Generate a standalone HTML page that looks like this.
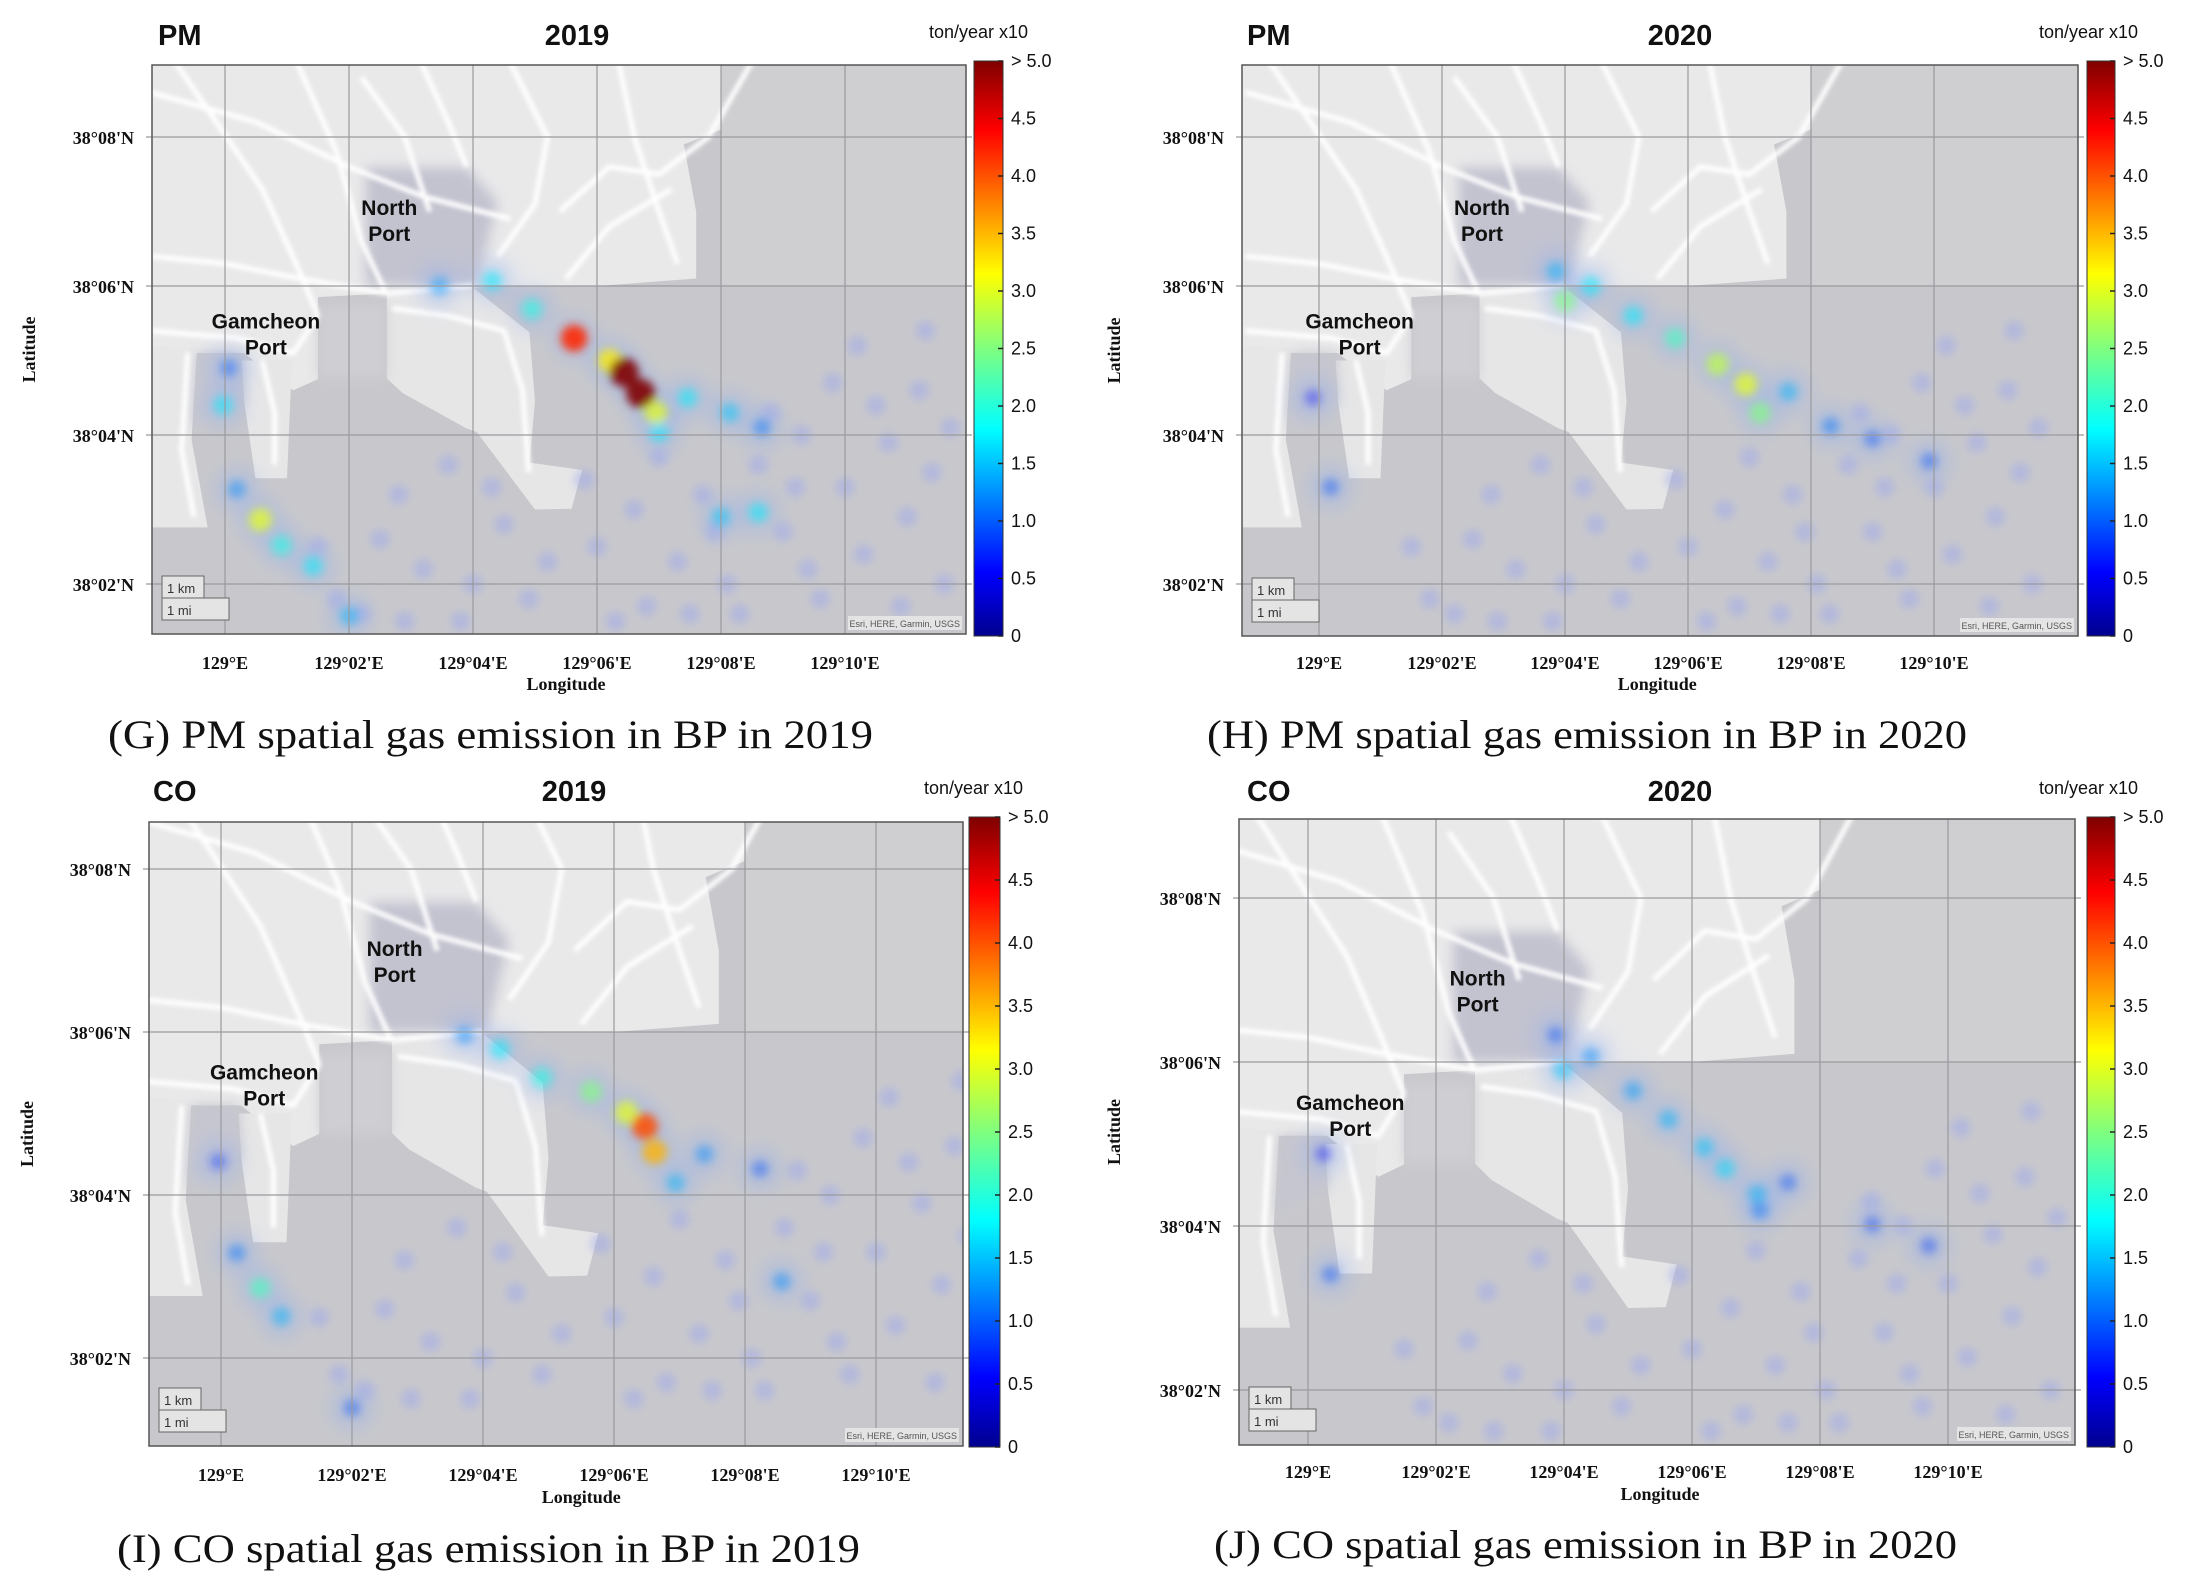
<!DOCTYPE html>
<html><head><meta charset="utf-8">
<style>
html,body{margin:0;padding:0;background:#fff;}
svg{display:block;}
.tk{font-family:"Liberation Serif",serif;font-weight:bold;font-size:18px;fill:#111;}
.ttl{font-family:"Liberation Sans",sans-serif;font-weight:bold;font-size:29px;fill:#111;}
.cbl{font-family:"Liberation Sans",sans-serif;font-size:18px;fill:#111;}
.lbl{font-family:"Liberation Sans",sans-serif;font-weight:bold;font-size:21px;fill:#111;}
.cap{font-family:"Liberation Serif",serif;font-size:40px;fill:#111;}
</style></head>
<body>
<svg id="fig" width="2196" height="1584" viewBox="0 0 2196 1584" xmlns="http://www.w3.org/2000/svg">
<defs>
<linearGradient id="jetg" x1="0" y1="1" x2="0" y2="0">
<stop offset="0" stop-color="#00008f"/><stop offset="0.11" stop-color="#0000ff"/>
<stop offset="0.36" stop-color="#00ffff"/><stop offset="0.5" stop-color="#7fff7f"/>
<stop offset="0.63" stop-color="#ffff00"/><stop offset="0.88" stop-color="#ff0000"/>
<stop offset="1" stop-color="#7f0000"/></linearGradient>
<filter id="blur1" x="-20%" y="-20%" width="140%" height="140%"><feGaussianBlur stdDeviation="9"/></filter>
<filter id="blur2" x="-20%" y="-20%" width="140%" height="140%"><feGaussianBlur stdDeviation="4.5"/></filter>
<filter id="blur3" x="-20%" y="-20%" width="140%" height="140%"><feGaussianBlur stdDeviation="2"/></filter>
<filter id="blur4" x="-20%" y="-20%" width="140%" height="140%"><feGaussianBlur stdDeviation="6"/></filter>
</defs>
</svg>
<script>
// ---- data (lon minutes east of 129°E, lat minutes north of 38°N, value ton/year x10) ----
const lonTicks = [0, 2, 4, 6, 8, 10];
const lonTickLabels = ["129°E", "129°02'E", "129°04'E", "129°06'E", "129°08'E", "129°10'E"];
const latTicks = [8, 6, 4, 2];
const latTickLabels = ["38°08'N", "38°06'N", "38°04'N", "38°02'N"];
const cbTicks = [5, 4.5, 4, 3.5, 3, 2.5, 2, 1.5, 1, 0.5, 0];
const cbTickLabels = ["> 5.0", "4.5", "4.0", "3.5", "3.0", "2.5", "2.0", "1.5", "1.0", "0.5", "0"];
const heatG = [[3.46,6.0,1.4],[4.31,6.07,1.8],[4.95,5.69,2.0],[5.63,5.3,4.2],[6.2,5.0,3.2],[6.44,4.84,5.0],[6.70,4.56,5.0],[6.95,4.3,3.0],[7.0,4.04,1.8],[7.46,4.5,1.8],[8.14,4.3,1.6],[8.66,4.1,1.2],
 [0.06,4.9,1.1],[-0.03,4.4,1.8],[0.19,3.27,1.3],[0.57,2.86,3.0],[0.91,2.52,2.0],[1.42,2.24,1.8],[2.0,1.57,1.5],[8.0,2.9,1.6],[8.6,2.96,1.8]];
const heatH = [[3.85,6.2,1.5],[4.0,5.8,2.5],[4.42,6.0,1.8],[5.11,5.6,1.8],[5.79,5.3,2.2],[6.48,4.95,2.8],[6.94,4.68,3.0],[7.17,4.3,2.5],[7.63,4.58,1.5],[8.32,4.12,1.2],[9.0,3.95,1.0],[9.92,3.65,1.0],
 [0.19,3.3,1.0],[-0.1,4.5,0.7]];
const heatI = [[3.72,5.96,1.3],[4.26,5.79,1.8],[4.90,5.44,2.0],[5.65,5.27,2.5],[6.19,5.01,3.0],[6.47,4.84,4.0],[6.62,4.53,3.5],[6.94,4.15,1.5],[7.38,4.50,1.3],[8.23,4.32,1.0],
 [-0.04,4.41,0.8],[0.24,3.29,1.2],[0.60,2.86,2.2],[0.92,2.51,1.5],[2.0,1.39,1.0],[8.56,2.94,1.3]];
const heatJ = [[3.87,6.33,1.0],[3.98,5.90,1.6],[4.42,6.07,1.3],[5.08,5.65,1.4],[5.63,5.30,1.5],[6.19,4.96,1.6],[6.52,4.70,1.7],[7.02,4.39,1.5],[7.06,4.19,1.2],[7.50,4.53,1.0],[8.82,4.02,0.9],[9.70,3.76,0.9],
 [0.35,3.41,1.0],[0.24,4.88,0.7]];
const scatterPts = [[1.5,2.5],[2.2,1.6],[2.8,3.2],[3.2,2.2],[3.8,1.5],[4.5,2.8],[4.9,1.8],[6.0,2.5],[6.6,3.0],[7.0,3.7],[7.3,2.3],[7.7,3.2],[8.1,2.0],[8.6,3.6],[9.0,2.7],[9.3,4.0],[9.6,1.8],[10.0,3.3],[10.3,2.4],[10.7,3.9],[11.0,2.9],[11.4,3.5],[11.6,2.0],[10.5,4.4],[9.8,4.7],[11.2,4.6],[8.3,1.6],[6.8,1.7],[5.8,3.4],[3.6,3.6],[2.5,2.6],[1.8,1.8],[4.0,2.0],[7.9,2.7],[9.2,3.3],[10.9,1.7],[11.7,4.1],[6.3,1.5],[8.8,4.3],[5.2,2.3],[2.9,1.5],[10.2,5.2],[11.3,5.4],[9.4,2.2],[7.5,1.6],[4.3,3.3]];
// land shapes (lon/lat minutes)
const landMain = [[-1.5,9.5],[8.0,9.5],[8.0,8.1],[7.4,7.9],[7.6,7.0],[7.6,6.1],[6.0,6.0],[4.4,6.0],[2.6,5.9],[1.5,5.85],[1.5,4.75],[1.1,4.6],[0.3,5.1],[-1.5,5.1]];
const landWest = [[-1.5,5.2],[-0.45,5.17],[-0.54,3.94],[-0.28,2.76],[-1.5,2.76]];
const landGam = [[0.27,5.0],[1.08,5.0],[1.0,3.42],[0.49,3.42],[0.31,4.45]];
const landYeong = [[2.61,5.89],[3.89,6.05],[4.91,5.38],[5.0,4.45],[4.91,3.63],[5.76,3.53],[5.59,3.01],[5.0,3.0],[4.06,4.04],[3.89,4.09],[2.87,4.56],[2.61,4.76]];
const portDark = [[2.27,7.59],[3.89,7.59],[4.4,7.13],[4.06,6.0],[2.27,6.0]];
const bayDark = [[-0.45,5.1],[0.27,5.1],[0.31,4.45],[-0.5,4.1]];
const gamBasin = [[1.5,5.75],[2.6,5.75],[2.6,4.76],[1.5,4.76]];
const roads = [
 [[-1.2,8.6],[0.5,8.2],[2.0,7.6],[3.2,7.2],[4.6,6.9]],
 [[1.0,9.3],[1.8,7.8],[2.2,6.6],[2.6,5.9]],
 [[-0.8,9.0],[0.6,7.3],[1.2,6.2],[1.5,5.6]],
 [[3.0,9.3],[3.6,8.2],[3.9,7.6]],
 [[4.6,9.0],[5.2,8.0],[5.0,7.1],[4.4,6.4]],
 [[8.7,9.3],[7.8,8.0],[7.0,7.5],[6.2,7.6],[5.4,7.0]],
 [[6.3,9.2],[6.6,8.0],[7.0,7.0],[7.3,6.3]],
 [[-1.2,6.4],[0.0,6.3],[1.2,6.1],[2.6,5.9],[4.0,6.0]],
 [[-1.2,5.4],[0.2,5.3],[1.1,5.1],[1.5,5.6]],
 [[-0.6,5.1],[-0.7,3.8],[-0.5,2.9]],
 [[2.7,5.7],[3.6,5.6],[4.5,5.4],[4.8,4.6],[4.9,3.5]],
 [[0.6,5.0],[0.8,4.3],[0.8,3.6]],
 [[2.2,8.8],[2.9,8.0],[3.3,7.0]],
 [[5.5,6.1],[6.2,6.8],[7.2,7.3]]];

const panels = [
 {id:"g", heat:heatG, map:[152,65,966,634], x0:225, kx:62, y8:137, ky:74.5, cb:[974,61,1003,636], gas:"PM", year:"2019", tx:158, ty:45, yx:577, unitx:929, unity:38, latx:35, xty:669, lony:690, cap:"(G) PM spatial gas emission in BP in 2019", capx:108, capy:748, capw:765},
 {id:"h", heat:heatH, map:[1242,65,2078,636], x0:1319, kx:61.5, y8:137, ky:74.5, cb:[2087,61,2115,636], gas:"PM", year:"2020", tx:1247, ty:45, yx:1680, unitx:2039, unity:38, latx:1120, xty:669, lony:690, cap:"(H) PM spatial gas emission in BP in 2020", capx:1207, capy:748, capw:760},
 {id:"i", heat:heatI, map:[149,822,963,1446], x0:221, kx:65.5, y8:869, ky:81.5, cb:[969,817,1000,1447], gas:"CO", year:"2019", tx:153, ty:801, yx:574, unitx:924, unity:794, latx:33, xty:1481, lony:1503, cap:"(I) CO spatial gas emission in BP in 2019", capx:117, capy:1562, capw:743},
 {id:"j", heat:heatJ, map:[1239,819,2075,1445], x0:1308, kx:64, y8:898, ky:82, cb:[2087,817,2115,1447], gas:"CO", year:"2020", tx:1247, ty:801, yx:1680, unitx:2039, unity:794, latx:1120, xty:1478, lony:1500, cap:"(J) CO spatial gas emission in BP in 2020", capx:1214, capy:1558, capw:743}
];

const NS = "http://www.w3.org/2000/svg";
const svg = document.getElementById("fig");
function mk(tag, attrs, parent){ const e=document.createElementNS(NS,tag); for(const k in attrs) e.setAttribute(k,attrs[k]); (parent||svg).appendChild(e); return e; }
function clamp(v){ return Math.max(0,Math.min(1,v)); }
function jet(t){ const r=clamp(1.5-Math.abs(4*t-3)), g=clamp(1.5-Math.abs(4*t-2)), b=clamp(1.5-Math.abs(4*t-1)); return `rgb(${Math.round(r*255)},${Math.round(g*255)},${Math.round(b*255)})`; }

panels.forEach(p => {
  const X = l => p.x0 + l*p.kx;
  const Y = a => p.y8 + (8-a)*p.ky;
  const [mx0,my0,mx1,my1] = p.map;
  const g = mk("g",{});
  
  
  const cp = mk("clipPath",{id:"clip"+p.id}, g);
  mk("rect",{x:mx0,y:my0,width:mx1-mx0,height:my1-my0},cp);
  const m = mk("g",{"clip-path":`url(#clip${p.id})`}, g);
  
  
  mk("rect",{x:mx0,y:my0,width:mx1-mx0,height:my1-my0,fill:"#c8c8cc"},m);
  mk("rect",{x:X(8),y:my0,width:mx1-X(8),height:Y(6)-my0,fill:"#cfcfd2"},m);
  const poly = (pts,fill,par) => mk("polygon",{points:pts.map(q=>X(q[0])+","+Y(q[1])).join(" "),fill:fill},par||m);
  poly(landMain,"#e9e9ea"); poly(landWest,"#e7e7e8"); poly(landGam,"#e6e6e7"); poly(landYeong,"#e6e6e7");
  const dg = mk("g",{filter:"url(#blur4)"},m);
  poly(portDark,"#c3c3d0",dg); poly(bayDark,"#c6c6d0",dg); poly(gamBasin,"#cfcfd3",dg);
  const rg = mk("g",{filter:"url(#blur3)"},m);
  roads.forEach(r => mk("polyline",{points:r.map(q=>X(q[0])+","+Y(q[1])).join(" "),fill:"none",stroke:"#ffffff","stroke-width":5,"stroke-linejoin":"round"},rg));
  // scatter faint emissions
  const sg = mk("g",{filter:"url(#blur2)"},m);
  scatterPts.forEach(s => {
    const c = mk("circle",{cx:X(s[0]),cy:Y(s[1]),r:10,fill:"#a3acea","fill-opacity":0.55},sg);
    
    
  });
  // heat
  const hg = mk("g",{filter:"url(#blur1)"},m);
  p.heat.forEach(h => { mk("circle",{cx:X(h[0]),cy:Y(h[1]),r:22,fill:"#8fb0f0","fill-opacity":0.35},hg); });
  const hg2 = mk("g",{filter:"url(#blur2)"},m);
  p.heat.forEach(h => {
    const c = mk("circle",{cx:X(h[0]),cy:Y(h[1]),r:7+h[2]*1.5,fill:jet(h[2]/5),"fill-opacity":Math.min(0.9,0.25+0.15*h[2])},hg2);
    
    
  });
  // grid
  lonTicks.forEach((l,i) => {
    mk("line",{x1:X(l),y1:my0,x2:X(l),y2:my1,stroke:"#9a9a9e","stroke-width":1.2},g);
    const t = mk("text",{x:X(l),y:p.xty,"text-anchor":"middle",class:"tk"},g); t.textContent=lonTickLabels[i];
    
    
  });
  latTicks.forEach((a,i) => {
    mk("line",{x1:mx0-6,y1:Y(a),x2:mx1+6,y2:Y(a),stroke:"#9a9a9e","stroke-width":1.2},g);
    const t = mk("text",{x:mx0-18,y:Y(a)+7,"text-anchor":"end",class:"tk"},g); t.textContent=latTickLabels[i];
    
    
  });
  mk("rect",{x:mx0,y:my0,width:mx1-mx0,height:my1-my0,fill:"none",stroke:"#555","stroke-width":1.5},g);
  // labels North Port / Gamcheon Port
  const nx=X(2.65), ny=Y(6.75), gx=X(0.66), gy=Y(5.27);
  [["North",nx,ny-15],["Port",nx,ny+11],["Gamcheon",gx,gy-12],["Port",gx,gy+14]].forEach(q=>{
    const t=mk("text",{x:q[1],y:q[2],"text-anchor":"middle",class:"lbl"},g); t.textContent=q[0];
    
    
  });
  // scale bar
  mk("rect",{x:mx0+10,y:my1-58,width:42,height:22,fill:"#e4e4e4",stroke:"#666"},g);
  mk("rect",{x:mx0+10,y:my1-36,width:67,height:22,fill:"#e4e4e4",stroke:"#666"},g);
  let t1=mk("text",{x:mx0+15,y:my1-41,"font-family":"Liberation Sans","font-size":13,fill:"#333"},g); t1.textContent="1 km";
  let t2=mk("text",{x:mx0+15,y:my1-19,"font-family":"Liberation Sans","font-size":13,fill:"#333"},g); t2.textContent="1 mi";
   
  mk("rect",{x:mx1-118,y:my1-18,width:114,height:14,fill:"#e4e4e4"},g);
  let at=mk("text",{x:mx1-6,y:my1-7,"text-anchor":"end","font-family":"Liberation Sans","font-size":9,fill:"#555"},g); at.textContent="Esri, HERE, Garmin, USGS";
   
  // colorbar
  const [cx0,cy0,cx1,cy1]=p.cb;
  const cbr = mk("rect",{x:cx0,y:cy0,width:cx1-cx0,height:cy1-cy0,fill:"url(#jetg)",stroke:"#333","stroke-width":1},g);
   
  cbTicks.forEach((v,i) => {
    const y = cy1 - v/5*(cy1-cy0);
    mk("line",{x1:cx1-5,y1:y,x2:cx1,y2:y,stroke:"#222","stroke-width":1.5},g);
    const t = mk("text",{x:cx1+8,y:y+6,class:"cbl"},g); t.textContent=cbTickLabels[i];
     
  });
  // titles
  let tg=mk("text",{x:p.tx,y:p.ty,class:"ttl"},g); tg.textContent=p.gas;
   
  let ty=mk("text",{x:p.yx,y:p.ty,"text-anchor":"middle",class:"ttl"},g); ty.textContent=p.year;
   
  let tu=mk("text",{x:p.unitx,y:p.unity,"font-family":"Liberation Sans","font-size":18,fill:"#111"},g); tu.textContent="ton/year  x10";
   
  let tl=mk("text",{x:p.latx,y:(my0+my1)/2,"text-anchor":"middle",class:"tk",transform:`rotate(-90 ${p.latx} ${(my0+my1)/2})`},g); tl.textContent="Latitude";
   
  let tx=mk("text",{x:X(5.5),y:p.lony,"text-anchor":"middle",class:"tk"},g); tx.textContent="Longitude";
   
  let tc=mk("text",{x:p.capx,y:p.capy,class:"cap",textLength:p.capw,lengthAdjust:"spacingAndGlyphs"},g); tc.textContent=p.cap;
   
});
</script>
</body></html>
